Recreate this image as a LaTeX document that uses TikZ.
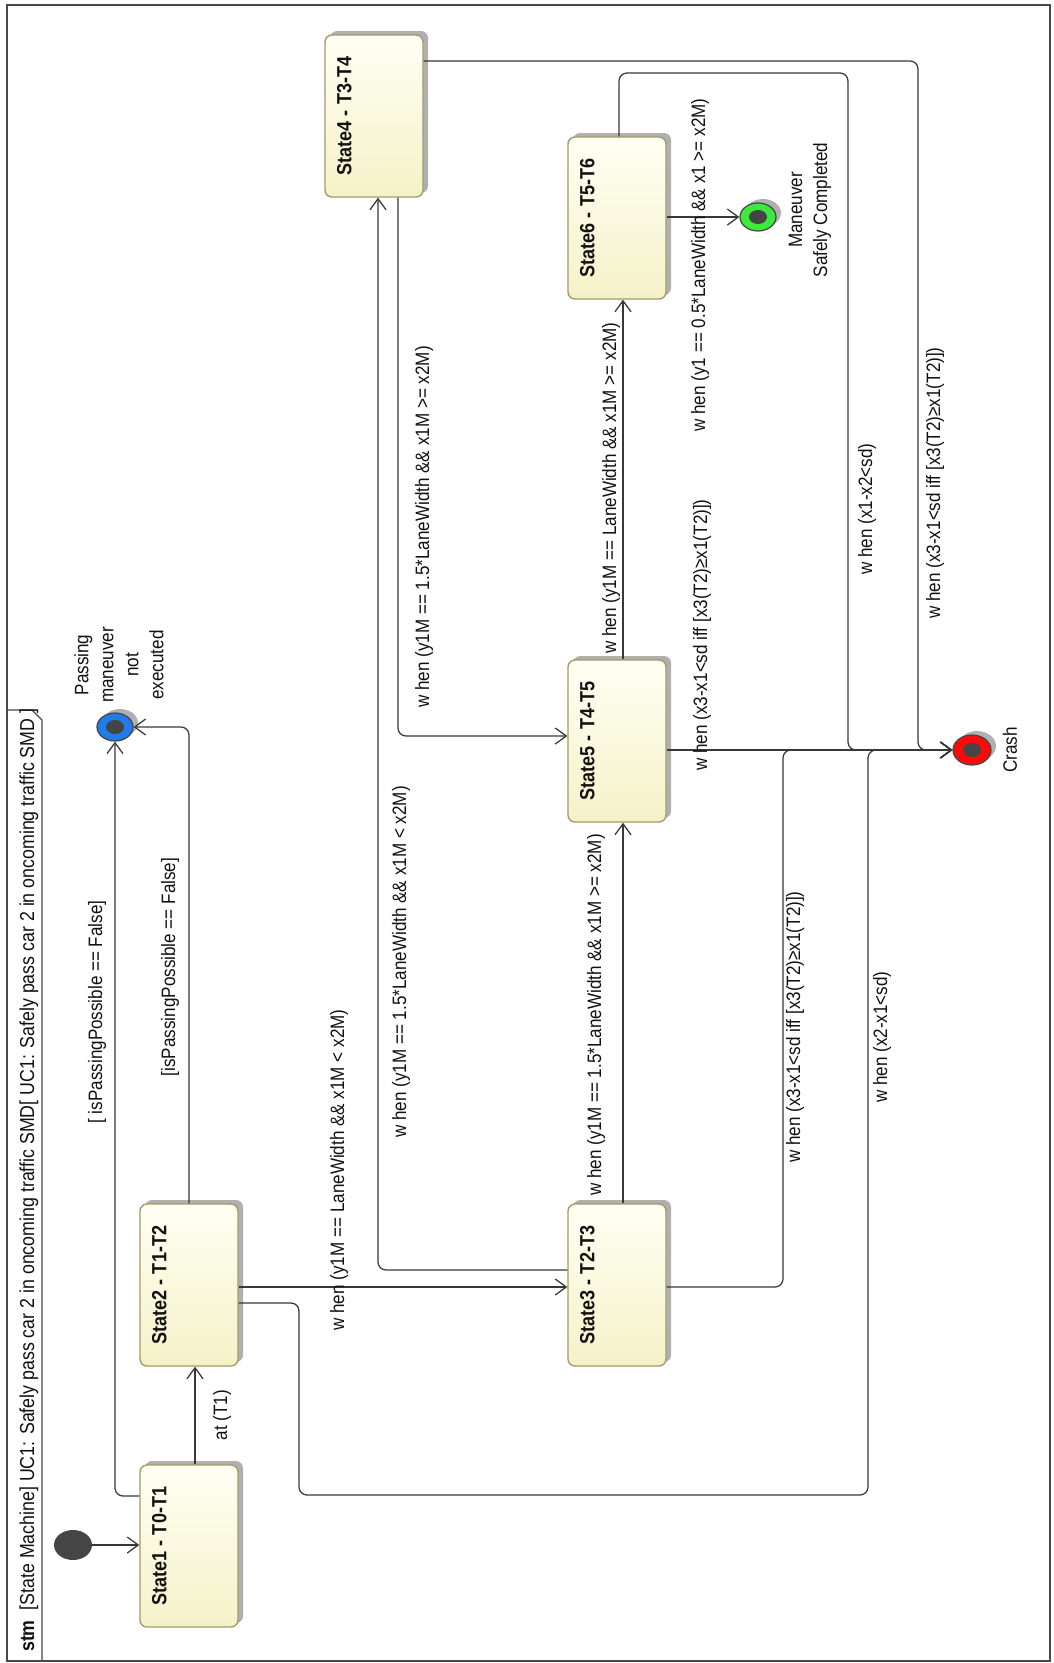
\documentclass[tikz,border=0pt]{standalone}
\usepackage{fontspec}
\setmainfont{Liberation Sans}[FakeStretch=0.88]
\usetikzlibrary{arrows.meta,shapes.geometric,shadows}
\definecolor{linec}{HTML}{383838}
\definecolor{framec}{HTML}{484848}
\definecolor{stateborder}{HTML}{A39B68}
\definecolor{statetop}{HTML}{FFFFF4}
\definecolor{statebot}{HTML}{F5F2C8}
\definecolor{shadowc}{HTML}{B0B0B0}
\definecolor{blueF}{HTML}{1E7DE8}
\definecolor{greenF}{HTML}{3BEA3B}
\definecolor{redF}{HTML}{FF0A0A}
\definecolor{dotc}{HTML}{454545}
\definecolor{textc}{HTML}{111111}
\begin{document}
\begin{tikzpicture}[x=1pt,y=-1pt,
  statebox/.style={draw=stateborder, line width=1.4pt, rounded corners=7pt,
    minimum width=98pt, minimum height=162pt, inner sep=0pt,
    top color=statetop, bottom color=statebot,
    drop shadow={shadow xshift=5pt, shadow yshift=4pt, fill=shadowc, opacity=1}},
  statetext/.style={rotate=90, text=textc, inner sep=0pt,
    font=\fontsize{20.5}{24}\selectfont\bfseries},
  lbl/.style={rotate=90, text=textc, inner sep=0pt,
    font=\fontsize{19.4}{24}\selectfont},
  pslbl/.style={rotate=90, text=textc, inner sep=0pt, align=center,
    font=\fontsize{19.4}{25}\selectfont},
  initst/.style={ellipse, fill=dotc, minimum width=38pt, minimum height=30pt, inner sep=0pt},
  finalout/.style={ellipse, draw=dotc, line width=1.2pt, minimum width=36pt,
    minimum height=28pt, inner sep=0pt,
    drop shadow={shadow xshift=5pt, shadow yshift=4pt, fill=shadowc, opacity=1}},
  finalin/.style={ellipse, fill=dotc, minimum width=18pt, minimum height=14pt, inner sep=0pt},
  conn/.style={draw=linec, line width=1.25pt, rounded corners=8pt},
  arr/.style={conn, -{Straight Barb[length=11pt,width=16pt]}}
]
% background and bounding box
\fill[white] (0,0) rectangle (1053,1663);
\useasboundingbox (0,0) rectangle (1053,1663);

% frame
\draw[framec, line width=1.3pt] (7,5) rectangle (1050,1661);
\draw[framec, line width=1.3pt] (7,710) -- (32,710) -- (42,720) -- (42,1661);
\node[rotate=90, anchor=west, inner sep=0pt, text=textc, font=\fontsize{20.2}{24}\selectfont] (title) at (29,1652)
  {\textbf{stm}\ \ [State Machine] UC1: Safely pass car 2 in oncoming traffic SMD[ UC1: Safely pass car 2 in oncoming traffic SMD ]};

% states
\node[statebox] (s1) at (189,1546) {};
\node[statebox] (s2) at (189,1285) {};
\node[statebox] (s3) at (617,1285) {};
\node[statebox] (s5) at (617,741) {};
\node[statebox] (s4) at (374,116) {};
\node[statebox] (s6) at (617,218) {};
\node[statetext] (t1) at ([xshift=20pt]s1.west) {State1 - T0-T1};
\node[statetext] (t2) at ([xshift=20pt]s2.west) {State2 - T1-T2};
\node[statetext] (t3) at ([xshift=20pt]s3.west) {State3 - T2-T3};
\node[statetext] (t5) at ([xshift=20pt]s5.west) {State5 - T4-T5};
\node[statetext] (t4) at ([xshift=20pt]s4.west) {State4 - T3-T4};
\node[statetext] (t6) at ([xshift=20pt]s6.west) {State6 - T5-T6};

% pseudostates
\node[initst] (init) at (73,1545) {};
\node[finalout, fill=blueF] (pf) at (115,727) {};
\node[finalin] (pfi) at (pf) {};
\node[finalout, fill=greenF] (gf) at (758,217) {};
\node[finalin] (gfi) at (gf) {};
\node[finalout, fill=redF, minimum width=38pt, minimum height=30pt] (crash) at (972,750) {};
\node[finalin] (crashi) at (crash) {};
\node[pslbl] (pfl) at (119,665) {Passing\\maneuver\\not\\executed};
\node[pslbl] (gfl) at (810,210) {Maneuver\\Safely Completed};
\node[lbl] (crl) at (1010,750) {Crash};

% transitions
\draw[arr] (init) -- (s1.west |- init);
\draw[arr] ([xshift=6pt]s1.north) -- ([xshift=6pt]s2.south);
\draw[arr] ([yshift=50pt]s1.west) -| (pf.south);
\draw[arr] (s2.north) |- (pf.east);
\draw[arr] ([yshift=-2pt]s2.east) -- ([yshift=-2pt]s3.west);
\draw[arr] ([yshift=-18pt]s2.east) -- (299,1303) -- (299,1495) -- (868,1495) |- (crash.west);
\draw[arr] ([yshift=15pt]s3.west) -| ([xshift=4pt]s4.south);
\draw[arr] ([xshift=24pt]s4.south) |- ([yshift=5pt]s5.west);
\draw[arr] ([xshift=6pt]s3.north) -- ([xshift=6pt]s5.south);
\draw[arr] ([xshift=6pt]s5.north) -- ([xshift=6pt]s6.south);
\draw[arr] (s6.east |- gf) -- (gf.west);
\draw[arr] ([yshift=55pt]s4.east) -- (918,61) |- (crash.west);
\draw[arr] ([xshift=2pt]s6.north) |- (848,73) |- (crash.west);
\draw[arr] ([yshift=-9pt]s5.east) -- (crash.west);
\draw[arr] ([yshift=-2pt]s3.east) -- (783,1287) |- (crash.west);

% transition labels
\node[lbl] (l2) at (222,1415) {at (T1)};
\node[lbl] (l3) at (97,1012) {[ isPassingPossible == False]};
\node[lbl] (l4) at (170,967) {[isPassingPossible == False]};
\node[lbl] (l5) at (339,1170) {w hen (y1M == LaneWidth \&\& x1M < x2M)};
\node[lbl] (l6) at (882,1037) {w hen (x2-x1<sd)};
\node[lbl] (l7) at (401,962) {w hen (y1M == 1.5*LaneWidth \&\& x1M < x2M)};
\node[lbl] (l8) at (424,527) {w hen (y1M == 1.5*LaneWidth \&\& x1M >= x2M)};
\node[lbl] (l9) at (596,1015) {w hen (y1M == 1.5*LaneWidth \&\& x1M >= x2M)};
\node[lbl] (l10) at (611,488) {w hen (y1M == LaneWidth \&\& x1M >= x2M)};
\node[lbl] (l11) at (700,265) {w hen (y1 == 0.5*LaneWidth \&\& x1 >= x2M)};
\node[lbl] (l12) at (935,483) {w hen (x3-x1<sd iff [x3(T2)≥x1(T2)])};
\node[lbl] (l13) at (867,509) {w hen (x1-x2<sd)};
\node[lbl] (l14) at (702,635) {w hen (x3-x1<sd iff [x3(T2)≥x1(T2)])};
\node[lbl] (l15) at (795,1027) {w hen (x3-x1<sd iff [x3(T2)≥x1(T2)])};
\end{tikzpicture}
\end{document}
